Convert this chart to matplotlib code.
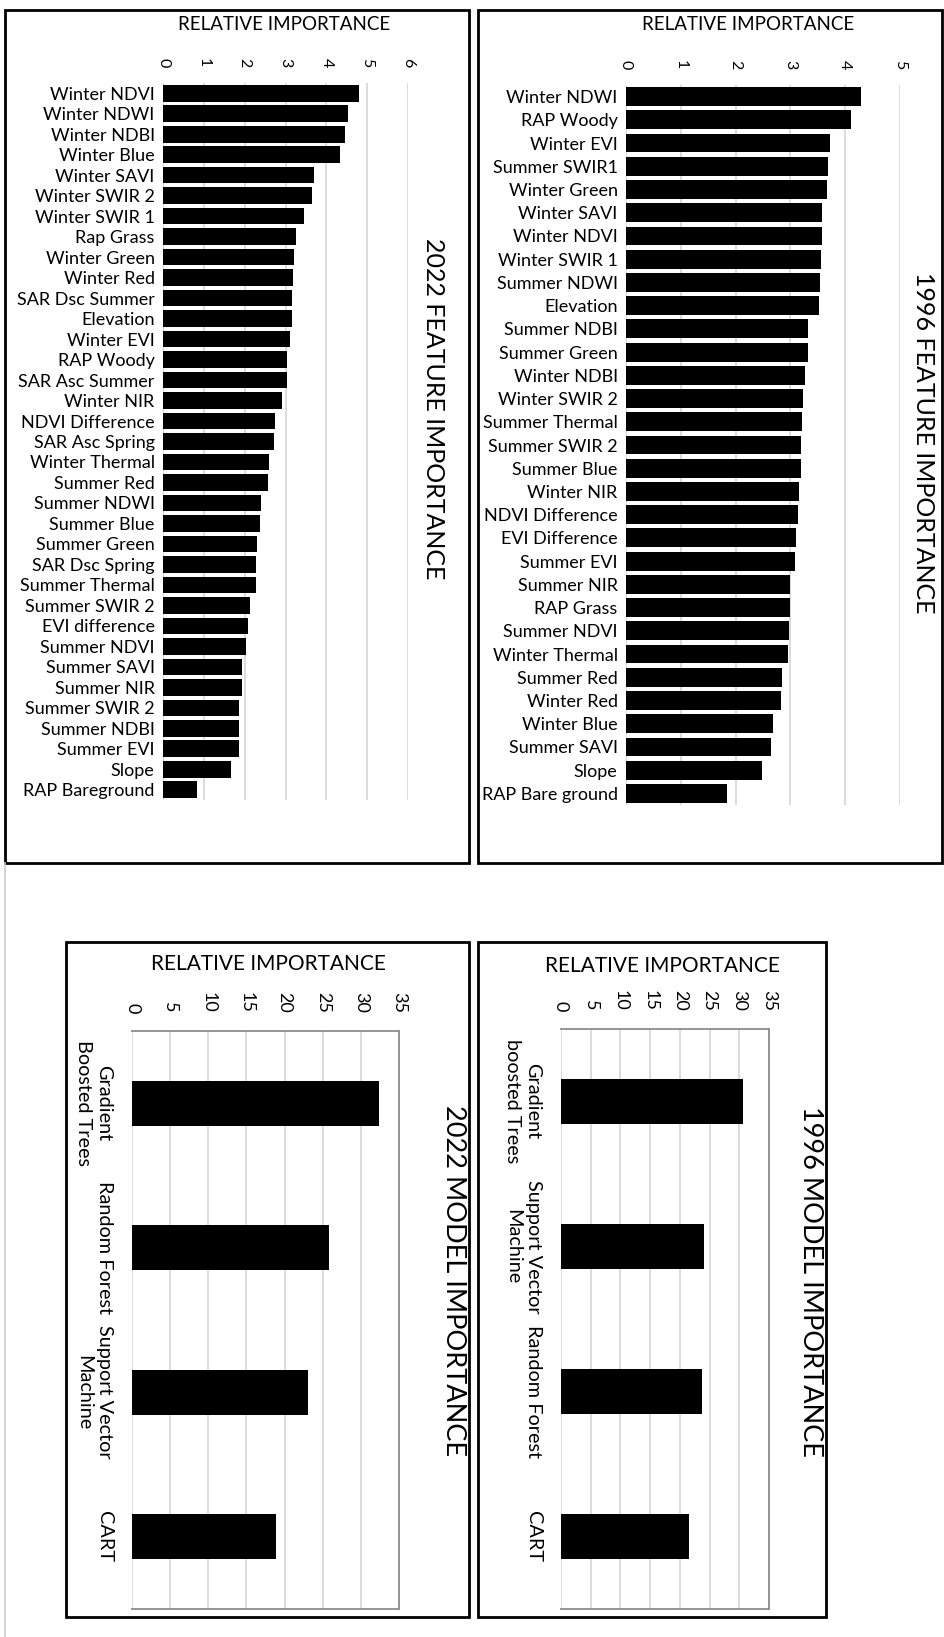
import matplotlib
matplotlib.use("Agg")
import matplotlib.pyplot as plt
from matplotlib.patches import Rectangle
from matplotlib.lines import Line2D

plt.rcParams['font.family'] = ['Lato', 'DejaVu Sans']

# ---------------- data ----------------
feat2022_labels = ["Winter NDVI", "Winter NDWI", "Winter NDBI", "Winter Blue", "Winter SAVI",
                   "Winter SWIR 2", "Winter SWIR 1", "Rap Grass", "Winter Green", "Winter Red",
                   "SAR Dsc Summer", "Elevation", "Winter EVI", "RAP Woody", "SAR Asc Summer",
                   "Winter NIR", "NDVI Difference", "SAR Asc Spring", "Winter Thermal", "Summer Red",
                   "Summer NDWI", "Summer Blue", "Summer Green", "SAR Dsc Spring", "Summer Thermal",
                   "Summer SWIR 2", "EVI difference", "Summer NDVI", "Summer SAVI", "Summer NIR",
                   "Summer SWIR 2", "Summer NDBI", "Summer EVI", "Slope", "RAP Bareground"]
feat2022_values = [4.79, 4.52, 4.45, 4.34, 3.70, 3.65, 3.46, 3.25, 3.22, 3.19,
                   3.17, 3.17, 3.11, 3.03, 3.03, 2.91, 2.75, 2.73, 2.59, 2.56,
                   2.41, 2.38, 2.29, 2.28, 2.28, 2.13, 2.08, 2.03, 1.93, 1.93,
                   1.85, 1.85, 1.85, 1.67, 0.84]
feat2022_ticks = [0, 1, 2, 3, 4, 5, 6]

feat1996_labels = ["Winter NDWI", "RAP Woody", "Winter EVI", "Summer SWIR1", "Winter Green",
                   "Winter SAVI", "Winter NDVI", "Winter SWIR 1", "Summer NDWI", "Elevation",
                   "Summer NDBI", "Summer Green", "Winter NDBI", "Winter SWIR 2", "Summer Thermal",
                   "Summer SWIR 2", "Summer Blue", "Winter NIR", "NDVI Difference", "EVI Difference",
                   "Summer EVI", "Summer NIR", "RAP Grass", "Summer NDVI", "Winter Thermal",
                   "Summer Red", "Winter Red", "Winter Blue", "Summer SAVI", "Slope",
                   "RAP Bare ground"]
feat1996_values = [4.29, 4.10, 3.72, 3.68, 3.66, 3.58, 3.58, 3.56, 3.54, 3.52,
                   3.33, 3.33, 3.27, 3.23, 3.21, 3.19, 3.19, 3.15, 3.13, 3.11,
                   3.09, 3.00, 3.00, 2.97, 2.95, 2.85, 2.83, 2.69, 2.65, 2.48,
                   1.85]
feat1996_ticks = [0, 1, 2, 3, 4, 5]

model2022_labels = ["Gradient\nBoosted Trees", "Random Forest", "Support Vector\nMachine", "CART"]
model2022_values = [32.4, 25.8, 23.1, 18.9]
model1996_labels = ["Gradient\nboosted Trees", "Support Vector\nMachine", "Random Forest", "CART"]
model1996_values = [30.6, 24.1, 23.8, 21.5]
model_ticks = [0, 5, 10, 15, 20, 25, 30, 35]

axis_label = "RELATIVE IMPORTANCE"

# ---------------- layout ----------------
W, H = 945, 1637
fig = plt.figure(figsize=(W / 100, H / 100), dpi=100)
fig.patch.set_facecolor('white')


def fx(x):
    return x / W


def fy(y):
    return 1 - y / H


def ax_at(x0, y0, x1, y1):
    return fig.add_axes([fx(x0), fy(y1), (x1 - x0) / W, (y1 - y0) / H])


def frame(x0, y0, x1, y1):
    fig.add_artist(Rectangle((fx(x0), fy(y1)), (x1 - x0) / W, (y1 - y0) / H,
                             transform=fig.transFigure, fill=False, lw=2, ec='black'))


GRID = '#d9d9d9'


def feature_panel(rect, labels, values, ticks, title, title_xy, rel_xy):
    ax = ax_at(*rect)
    pos = list(range(len(values)))
    ax.barh(pos, values, height=0.81, color='black', zorder=3)
    ax.set_ylim(len(values) - 0.5, -0.5)
    ax.set_xlim(ticks[0], ticks[-1])
    ax.set_xticks(ticks)
    ax.xaxis.tick_top()
    ax.tick_params(axis='x', length=0, pad=11, labelsize=11.5, labelrotation=-90)
    ax.set_yticks(pos)
    ax.set_yticklabels(labels)
    ax.tick_params(axis='y', length=0, pad=6, labelsize=13)
    ax.grid(axis='x', color=GRID, linewidth=1.3, zorder=0)
    ax.grid(axis='y', visible=False)
    ax.set_axisbelow(True)
    for s in ax.spines.values():
        s.set_visible(False)
    fig.text(fx(title_xy[0]), fy(title_xy[1]), title, rotation=-90,
             ha='center', va='center', fontsize=18)
    fig.text(fx(rel_xy[0]), fy(rel_xy[1]), axis_label, ha='center', va='center', fontsize=13.5)
    return ax


def model_panel(rect, labels, values, title, title_xy, rel_xy):
    ax = ax_at(*rect)
    pos = list(range(len(values)))
    ax.barh(pos, values, height=0.31, color='black', zorder=3)
    ax.set_ylim(len(values) - 0.5, -0.5)
    ax.set_xlim(model_ticks[0], model_ticks[-1])
    ax.set_xticks(model_ticks)
    ax.xaxis.tick_top()
    ax.tick_params(axis='x', length=0, pad=13, labelsize=13, labelrotation=-90)
    ax.set_yticks(pos)
    ax.set_yticklabels(labels)
    ax.tick_params(axis='y', length=0, pad=14, labelsize=14.3, labelrotation=-90)
    for lab in ax.get_yticklabels():
        lab.set_va('center')
        lab.set_multialignment('center')
        lab.set_linespacing(1.25)
    ax.grid(axis='x', color=GRID, linewidth=1.3, zorder=0)
    ax.set_axisbelow(True)
    for side in ['top', 'right', 'bottom']:
        ax.spines[side].set_color('#8c8c8c')
        ax.spines[side].set_linewidth(1.3)
    ax.spines['left'].set_visible(False)
    fig.text(fx(title_xy[0]), fy(title_xy[1]), title, rotation=-90,
             ha='center', va='center', fontsize=19.5)
    fig.text(fx(rel_xy[0]), fy(rel_xy[1]), axis_label, ha='center', va='center', fontsize=15)
    return ax


# frames
frame(5, 10, 469, 863)
frame(478, 10, 942, 863)
frame(66, 942, 469, 1617)
frame(478, 942, 826, 1617)
fig.add_artist(Line2D([fx(5), fx(5)], [fy(863), fy(1637)], transform=fig.transFigure,
                      color='#cccccc', lw=1.2))

feature_panel((163, 83, 408, 800), feat2022_labels, feat2022_values, feat2022_ticks,
              "2022 FEATURE IMPORTANCE", (434, 409), (284, 24))
feature_panel((626, 85, 900, 805), feat1996_labels, feat1996_values, feat1996_ticks,
              "1996 FEATURE IMPORTANCE", (924, 443), (748, 24))
model_panel((132, 1031, 399, 1609), model2022_labels, model2022_values,
            "2022 MODEL IMPORTANCE", (453, 1281), (268, 964))
model_panel((561, 1029, 769, 1609), model1996_labels, model1996_values,
            "1996 MODEL IMPORTANCE", (811, 1282), (662, 966))

fig.savefig("out.png", dpi=100, facecolor='white')
